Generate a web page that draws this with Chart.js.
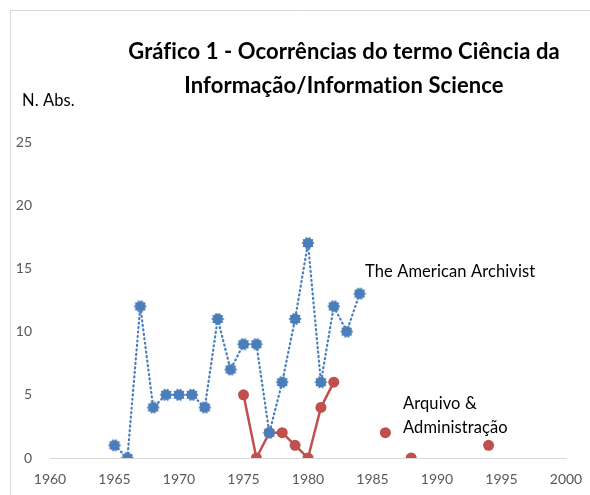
<!DOCTYPE html>
<html>
<head>
<meta charset="utf-8">
<script src="https://cdn.jsdelivr.net/npm/chart.js@4"></script>
<style>
  html, body { margin: 0; padding: 0; background: #fff; }
  #wrap { position: relative; width: 590px; height: 495px; }
</style>
</head>
<body>
<div id="wrap"><canvas id="chart" width="590" height="495"></canvas></div>
<script>
// Ocorrências do termo por ano, duas revistas
const years = [1965,1966,1967,1968,1969,1970,1971,1972,1973,1974,1975,1976,1977,1978,1979,1980,1981,1982,1983,1984,1985,1986,1987,1988,1989,1990,1991,1992,1993,1994];
const americanArchivist = [1,0,12,4,5,5,5,4,11,7,9,9,2,6,11,17,6,12,10,13,null,null,null,null,null,null,null,null,null,null];
const arquivoAdm = [null,null,null,null,null,null,null,null,null,null,5,0,2,2,1,0,4,6,null,null,null,2,null,0,null,null,null,null,null,1];
const xTicks = [1960,1965,1970,1975,1980,1985,1990,1995,2000];
const yTicks = [0,5,10,15,20,25];

const titleLines = ['Gráfico 1 - Ocorrências do termo Ciência da', 'Informação/Information Science'];
const yTitle = 'N. Abs.';
const seriesNames = ['The American Archivist', 'Arquivo & Administração'];

const BLUE = '#4A7EBB', RED = '#C0504D';

function pts(vals){ return years.map((y,i)=>({x:y, y:vals[i]})); }

// jagged "star" marker like the spreadsheet one
function starMarker(){
  const c = document.createElement('canvas');
  c.width = 14; c.height = 14;
  const g = c.getContext('2d');
  g.fillStyle = BLUE;
  g.beginPath();
  const n = 10;
  for(let k=0;k<n*2;k++){
    const r = k%2 ? 5 : 6.6;
    const a = Math.PI*k/n;
    const px = 7 + r*Math.cos(a), py = 7 + r*Math.sin(a);
    k ? g.lineTo(px,py) : g.moveTo(px,py);
  }
  g.closePath();
  g.fill();
  return c;
}

const decor = {
  id: 'decor',
  beforeDraw(chart){
    const ctx = chart.ctx;
    ctx.save();
    ctx.strokeStyle = '#d9d9d9';
    ctx.lineWidth = 1;
    ctx.beginPath();
    ctx.moveTo(10.5, 495); ctx.lineTo(10.5, 10.5); ctx.lineTo(590, 10.5);
    ctx.stroke();
    ctx.restore();
  },
  afterDraw(chart){
    const ctx = chart.ctx;
    ctx.save();
    ctx.fillStyle = '#000';
    ctx.letterSpacing = '0.1px';
    ctx.textBaseline = 'middle';
    ctx.textAlign = 'center';
    ctx.font = 'bold 22px Lato';
    ctx.fillText(titleLines[0], 344, 52);
    ctx.fillText(titleLines[1], 344, 86);
    ctx.textAlign = 'left';
    ctx.font = '16.5px Lato';
    ctx.fillText(yTitle, 22, 101);
    ctx.fillText(seriesNames[0], 365, 272);
    ctx.fillText('Arquivo &', 403, 404);
    ctx.fillText('Administração', 403, 428);
    ctx.restore();
  }
};

new Chart(document.getElementById('chart').getContext('2d'), {
  type: 'line',
  data: {
    datasets: [
      { label: seriesNames[0], data: pts(americanArchivist), borderColor: BLUE, borderWidth: 2.2,
        borderDash: [1, 3.5], borderCapStyle: 'round', pointStyle: starMarker(), pointRadius: 6,
        spanGaps: false, tension: 0 },
      { label: seriesNames[1], data: pts(arquivoAdm), borderColor: RED, backgroundColor: RED,
        borderWidth: 2.5, pointStyle: 'circle', pointRadius: 5.5, pointBorderWidth: 0,
        spanGaps: false, tension: 0 }
    ]
  },
  plugins: [decor],
  options: {
    responsive: false,
    animation: false,
    layout: { padding: { top: 142, right: 24, left: 0, bottom: 0 } },
    plugins: { legend: { display: false }, tooltip: { enabled: false }, title: { display: false } },
    scales: {
      x: {
        type: 'linear', min: 1960, max: 2000,
        afterBuildTicks(s){ s.ticks = xTicks.map(v=>({value:v})); },
        afterFit(s){ s.height = 37; },
        grid: { display: false },
        border: { display: true, color: '#d9d9d9', width: 1 },
        ticks: { color: '#595959', font: { family: 'Lato', size: 14 }, padding: 5, maxRotation: 0,
                 callback: v => String(v) }
      },
      y: {
        min: 0, max: 25,
        afterBuildTicks(s){ s.ticks = yTicks.map(v=>({value:v})); },
        afterFit(s){ s.width = 50; },
        grid: { display: false },
        border: { display: false },
        ticks: { color: '#595959', font: { family: 'Lato', size: 14 }, padding: 10,
                 callback: v => String(v) }
      }
    }
  }
});
</script>
</body>
</html>
